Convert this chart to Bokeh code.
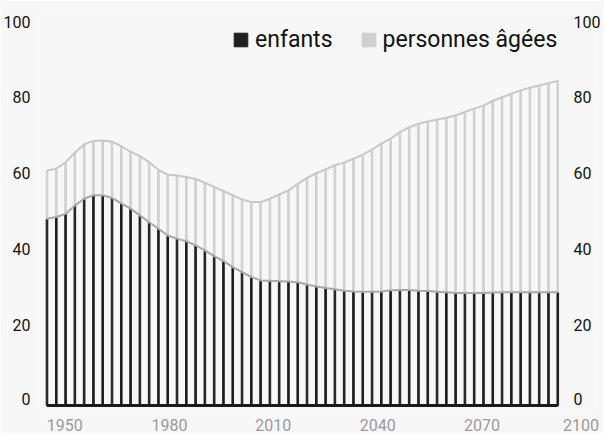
from bokeh.plotting import figure
from bokeh.models import ColumnDataSource, Range1d, FixedTicker, LinearAxis, Legend, LegendItem
from bokeh.embed import file_html
from bokeh.resources import INLINE

# --- data ---
enfants = [49.1, 49.6, 50.4, 52.6, 54.4, 55.3, 55.3, 54.6, 53.2, 51.8,
           50.0, 48.2, 46.5, 44.7, 43.9, 43.2, 42.1, 40.8, 39.3, 38.0,
           36.4, 35.1, 33.8, 32.9, 32.8, 32.7, 32.6, 32.4, 31.8, 31.3,
           30.9, 30.6, 30.2, 30.0, 29.9, 29.9, 30.0, 30.3, 30.4, 30.4,
           30.2, 30.1, 29.9, 29.8, 29.6, 29.6, 29.6, 29.6, 29.7, 29.8,
           29.8, 29.8, 29.8, 29.8, 29.8, 29.8]
personnes_agees = [12.7, 12.7, 13.6, 13.9, 14.3, 14.3, 14.4, 14.8, 15.0, 15.0,
                   15.6, 15.8, 15.5, 16.0, 16.6, 16.9, 17.5, 17.8, 18.2, 18.4,
                   18.9, 19.1, 19.7, 20.6, 21.6, 22.8, 24.0, 25.9, 28.1, 29.8,
                   31.2, 32.6, 33.7, 34.9, 36.1, 37.4, 38.9, 39.9, 41.5, 42.8,
                   43.9, 44.6, 45.3, 45.9, 46.7, 47.6, 48.5, 49.3, 50.4, 51.3,
                   52.2, 53.1, 53.8, 54.4, 55.0, 55.6]
x_labels = ["1950", "1980", "2010", "2040", "2070", "2100"]
y_labels = ["0", "20", "40", "60", "80", "100"]

# --- layout constants ---
x_label_pos = [1.92, 13.19, 24.37, 35.62, 46.84, 57.5]
y_label_pos = [1.6, 21.2, 41.2, 61.2, 81.2, 101.0]
FONT = "Roboto"
BG = "#f7f7f7"

idx = list(range(len(enfants)))
total = [a + b for a, b in zip(enfants, personnes_agees)]
src = ColumnDataSource(dict(x=idx, enfants=enfants,
                            personnes_agees=personnes_agees, total=total))

p = figure(frame_width=557, frame_height=393, output_backend="svg",
           toolbar_location=None,
           x_range=Range1d(-0.808, 59.17), y_range=Range1d(-0.8, 102.6),
           min_border_left=32, min_border_right=4, min_border_top=15,
           min_border_bottom=23, background_fill_color=BG,
           border_fill_color=BG, outline_line_color=None)

p.xgrid.visible = False
p.ygrid.visible = False

y_over = {pos: lab for pos, lab in zip(y_label_pos, y_labels)}

# bottom axis
xa = p.xaxis[0]
xa.ticker = FixedTicker(ticks=x_label_pos)
xa.major_label_overrides = {pos: lab for pos, lab in zip(x_label_pos, x_labels)}
xa.axis_line_color = None
xa.major_tick_line_color = None
xa.minor_tick_line_color = None
xa.major_label_standoff = 4
xa.major_label_text_font = FONT
xa.major_label_text_font_size = "16px"
xa.major_label_text_color = "#9a9a9a"

# left axis
ya = p.yaxis[0]
ya.ticker = FixedTicker(ticks=y_label_pos)
ya.major_label_overrides = y_over
ya.axis_line_color = None
ya.major_tick_line_color = None
ya.minor_tick_line_color = None
ya.major_label_standoff = 3
ya.major_label_text_font = FONT
ya.major_label_text_font_size = "16px"
ya.major_label_text_color = "#111111"

# right axis (labels drawn just right of the bars)
ra = LinearAxis(ticker=FixedTicker(ticks=y_label_pos), major_label_overrides=y_over)
ra.axis_line_color = None
ra.major_tick_line_color = None
ra.minor_tick_line_color = None
ra.major_label_standoff = -29
ra.major_label_text_font = FONT
ra.major_label_text_font_size = "16px"
ra.major_label_text_color = "#111111"
p.add_layout(ra, "right")

# stacked thin bars
rs = p.vbar_stack(["enfants", "personnes_agees"], x="x", width=0.17,
                  color=["#1e1e1e", "#d0d0d0"], source=src)

# outline curves
p.line("x", "total", source=src, line_color="#c8c8c8", line_width=2)
p.line("x", "enfants", source=src, line_color="#a8a8a8", line_width=2)

# baseline
p.segment(x0=[idx[0]], x1=[idx[-1]], y0=[0], y1=[0],
          line_color="#1a1a1a", line_width=3)

legend = Legend(items=[LegendItem(label="enfants", renderers=[rs[0]]),
                       LegendItem(label="personnes âgées", renderers=[rs[1]])],
                orientation="horizontal", location=(193, 355),
                background_fill_alpha=0, border_line_color=None,
                glyph_width=17, glyph_height=17, padding=0, margin=0,
                spacing=27, label_standoff=6,
                label_text_font=FONT, label_text_font_size="23px",
                label_text_color="#111111")
p.add_layout(legend)

open("out.html", "w").write(file_html(p, INLINE))
